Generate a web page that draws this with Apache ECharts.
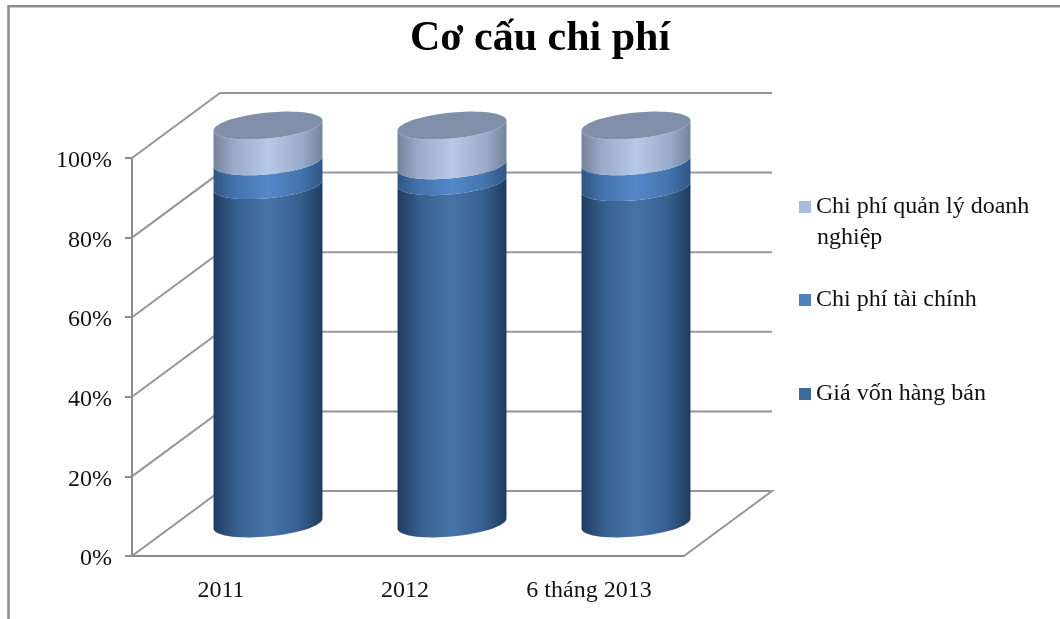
<!DOCTYPE html>
<html>
<head>
<meta charset="utf-8">
<title>Cơ cấu chi phí</title>
<style>
  html, body { margin: 0; padding: 0; background: #fff; }
  #main { width: 1060px; height: 619px; }
</style>
<script src="https://cdn.jsdelivr.net/npm/echarts@6/dist/echarts.min.js"></script>
</head>
<body>
<div id="main"></div>
<script>
var categories = ['2011', '2012', '6 tháng 2013'];
var yTicks = [0, 20, 40, 60, 80, 100];
var giaVon = [85, 86, 84.5];
var taiChinh = [6, 4, 6.5];
var quanLy = [9, 10, 9];

var nameGiaVon = 'Giá vốn hàng bán';
var nameTaiChinh = 'Chi phí tài chính';
var nameQuanLy = 'Chi phí quản lý doanh nghiệp';

// 3d projection of the plot box
var depthX = 88;
var depthY = 65;
var cylRatio = 0.296;
var ellB = 13;
var ellShear = 5;
var serifFont = '"Liberation Serif", "Times New Roman", serif';

function ellPoint(cx, cy, a, t) {
  return [cx + a * Math.cos(t), cy + ellB * Math.sin(t) - ellShear * Math.cos(t)];
}

// front half of the ellipse, left to right
function frontArc(cx, cy, a) {
  var pts = [];
  for (var i = 0; i <= 40; i++) {
    pts.push(ellPoint(cx, cy, a, Math.PI - Math.PI * i / 40));
  }
  return pts;
}

function sideGradient(edge, mid, center) {
  return new echarts.graphic.LinearGradient(0, 0, 1, 0, [
    { offset: 0, color: edge },
    { offset: 0.2, color: mid },
    { offset: 0.5, color: center },
    { offset: 0.8, color: mid },
    { offset: 1, color: edge }
  ]);
}

function cylinderItem(colors, withTop) {
  return function (params, api) {
    var base = api.coord([api.value(0), api.value(1)]);
    var end = api.coord([api.value(0), api.value(2)]);
    var a = api.size([1, 0])[0] * cylRatio;
    var cx = base[0] + depthX / 2;
    var y0 = base[1] - depthY / 2;
    var y1 = end[1] - depthY / 2;
    var pts = frontArc(cx, y0, a).concat(frontArc(cx, y1, a).reverse());
    var children = [{
      type: 'polygon',
      shape: { points: pts },
      style: { fill: sideGradient(colors[0], colors[1], colors[2]) }
    }];
    if (withTop) {
      var top = [];
      for (var i = 0; i < 80; i++) {
        top.push(ellPoint(cx, y1, a, i / 80 * Math.PI * 2));
      }
      children.push({
        type: 'polygon',
        shape: { points: top },
        style: { fill: '#8190a9' }
      });
    }
    return { type: 'group', children: children };
  };
}

function stackData(lower, values) {
  return values.map(function (v, i) {
    return [i, lower[i], lower[i] + v];
  });
}

var zeros = categories.map(function () { return 0; });
var top1 = giaVon.slice();
var top2 = giaVon.map(function (v, i) { return v + taiChinh[i]; });

// side wall and back wall lines
function wallItem(params, api) {
  var box = params.coordSys;
  var y = api.coord([0, api.value(0)])[1];
  var x0 = box.x;
  var x1 = box.x + box.width;
  var points = [[x0, y], [x0 + depthX, y - depthY], [x1 + depthX, y - depthY]];
  if (api.value(0) === 0) {
    points.push([x1, y]);
  }
  return {
    type: 'polyline',
    shape: { points: points },
    style: { stroke: '#969696', lineWidth: 2, fill: null }
  };
}

var chart = echarts.init(document.getElementById('main'), null, { renderer: 'canvas' });

var legendText = { fontFamily: serifFont, fontSize: 24, color: '#111' };

function legendBox(name, top) {
  return {
    data: [name],
    left: 799,
    top: top,
    padding: 0,
    itemWidth: 12,
    itemHeight: 12,
    icon: 'rect',
    selectedMode: false,
    textStyle: legendText
  };
}

var quanLyLegend = legendBox(nameQuanLy, 195);
quanLyLegend.formatter = function () { return 'Chi phí quản lý doanh'; };

chart.setOption({
  animation: false,
  backgroundColor: '#fff',
  title: {
    text: 'Cơ cấu chi phí',
    left: 405,
    top: 13,
    textStyle: { fontFamily: serifFont, fontSize: 42, fontWeight: 'bold', color: '#000' }
  },
  graphic: [{
    type: 'polyline',
    silent: true,
    shape: { points: [[8.5, 619], [8.5, 6.2], [1060, 6.2]] },
    style: { stroke: '#8c8c8c', lineWidth: 2.5, fill: null }
  }, {
    type: 'text',
    silent: true,
    left: 817,
    top: 226,
    style: { text: 'nghiệp', font: '24px ' + serifFont, fill: '#111' }
  }],
  legend: [
    quanLyLegend,
    legendBox(nameTaiChinh, 288),
    legendBox(nameGiaVon, 382)
  ],
  grid: { left: 132, top: 158, width: 552, height: 398, containLabel: false },
  xAxis: {
    type: 'category',
    data: categories,
    axisLine: { lineStyle: { color: '#8c8c8c', width: 2 } },
    axisTick: { length: 8, lineStyle: { color: '#8c8c8c', width: 2 } },
    axisLabel: { fontFamily: serifFont, fontSize: 24, color: '#111', margin: 23, padding: [0, 6, 0, 0] }
  },
  yAxis: {
    type: 'value',
    min: 0,
    max: 100,
    interval: 20,
    splitLine: { show: false },
    axisLine: { show: true, lineStyle: { color: '#8c8c8c', width: 2 } },
    axisTick: { show: true, length: 7, lineStyle: { color: '#8c8c8c', width: 2 } },
    axisLabel: {
      margin: 20,
      formatter: '{t|{value}%}',
      rich: { t: { fontFamily: serifFont, fontSize: 24, color: '#111', padding: [6, 0, 0, 0] } }
    }
  },
  series: [
    {
      type: 'custom',
      name: 'walls',
      z: 1,
      silent: true,
      renderItem: wallItem,
      data: yTicks.map(function (v) { return [v]; }),
      encode: { y: 0 }
    },
    {
      type: 'custom',
      name: nameGiaVon,
      z: 3,
      itemStyle: { color: '#3f6a9c' },
      renderItem: cylinderItem(['#1f3a5f', '#375f8e', '#4673a6'], false),
      data: stackData(zeros, giaVon),
      encode: { x: 0, y: [1, 2] }
    },
    {
      type: 'custom',
      name: nameTaiChinh,
      z: 3,
      itemStyle: { color: '#4f81bd' },
      renderItem: cylinderItem(['#2f5685', '#4474ad', '#5288c9'], false),
      data: stackData(top1, taiChinh),
      encode: { x: 0, y: [1, 2] }
    },
    {
      type: 'custom',
      name: nameQuanLy,
      z: 3,
      itemStyle: { color: '#a7bbdc' },
      renderItem: cylinderItem(['#75829a', '#9cadcb', '#b7c8e6'], true),
      data: stackData(top2, quanLy),
      encode: { x: 0, y: [1, 2] }
    }
  ]
});
</script>
</body>
</html>
